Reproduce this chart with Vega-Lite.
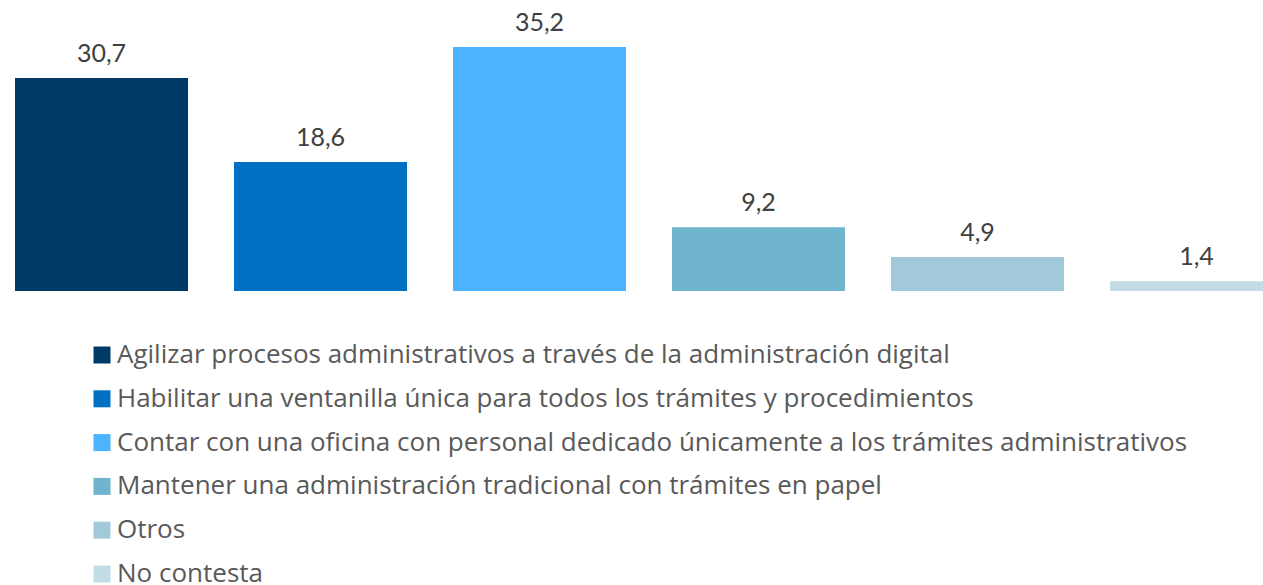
{
  "$schema": "https://vega.github.io/schema/vega-lite/v6.json",
  "autosize": "none",
  "width": 1263,
  "height": 291,
  "padding": {"top": 0, "left": 0, "right": 0, "bottom": 294},
  "background": "white",
  "config": {"view": {"stroke": null}, "font": "Lato"},
  "data": {"values": [
    {"cat": "Agilizar procesos administrativos a través de la administración digital", "value": 30.7, "label": "30,7"},
    {"cat": "Habilitar una ventanilla única para todos los trámites y procedimientos", "value": 18.6, "label": "18,6"},
    {"cat": "Contar con una oficina con personal dedicado únicamente a los trámites administrativos", "value": 35.2, "label": "35,2"},
    {"cat": "Mantener una administración tradicional con trámites en papel", "value": 9.2, "label": "9,2"},
    {"cat": "Otros", "value": 4.9, "label": "4,9"},
    {"cat": "No contesta", "value": 1.4, "label": "1,4"}
  ]},
  "encoding": {
    "x": {"field": "cat", "type": "nominal", "sort": null, "axis": null,
          "scale": {"range": [15, 1283], "paddingInner": 0.21, "paddingOuter": 0}},
    "y": {"field": "value", "type": "quantitative", "axis": null,
          "scale": {"domain": [0, 41.96], "nice": false, "zero": true}}
  },
  "layer": [
    {
      "mark": {"type": "bar"},
      "encoding": {
        "color": {"field": "cat", "type": "nominal", "sort": null,
          "scale": {"range": ["#003A66", "#0071C2", "#4BB3FF", "#6FB5CE", "#A2C9DA", "#C2DCE5"]},
          "legend": {
            "title": null, "orient": "none", "legendX": 89, "legendY": 342,
            "direction": "vertical", "symbolType": "square", "symbolSize": 289,
            "symbolStrokeWidth": 0, "labelFontSize": 26, "labelFont": "Open Sans", "labelColor": "#595959",
            "labelOffset": 2, "labelLimit": 2000, "rowPadding": 17.8, "padding": 0
          }
        }
      }
    },
    {
      "mark": {"type": "text", "baseline": "alphabetic", "dy": -16, "fontSize": 25, "color": "#404040"},
      "encoding": {"text": {"field": "label"}}
    }
  ]
}
